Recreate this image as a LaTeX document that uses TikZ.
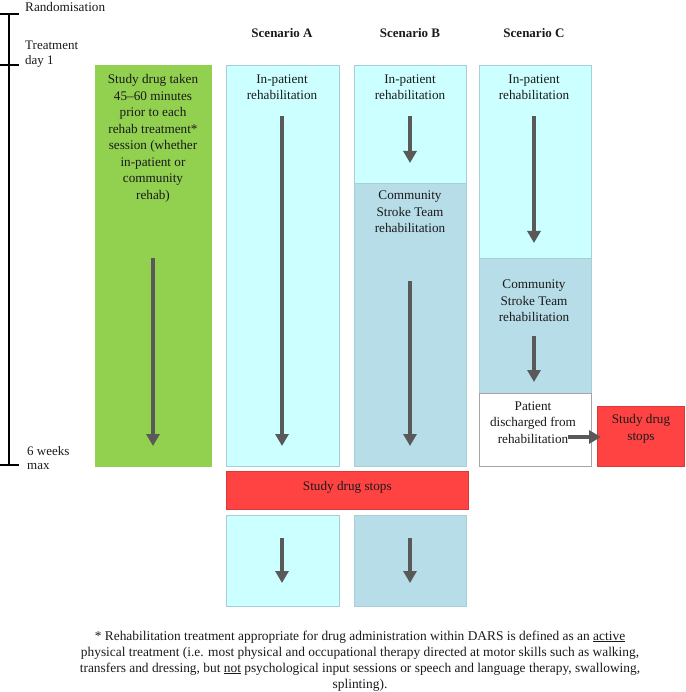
\documentclass[tikz,border=0pt]{standalone}
\usepackage{fontspec}
\setmainfont{Liberation Serif}
\usetikzlibrary{arrows.meta}
\definecolor{gr}{HTML}{92D050}
\definecolor{cy}{HTML}{CCFFFF}
\definecolor{lb}{HTML}{B7DDE8}
\definecolor{rd}{HTML}{FF4343}
\definecolor{ar}{HTML}{595959}
\definecolor{bd}{HTML}{A9CFD6}
\definecolor{tx}{HTML}{1A1A1A}
\begin{document}
\begin{tikzpicture}[x=1pt,y=-1pt,
  box/.style={rectangle, draw=bd, line width=0.6pt, inner sep=0pt, anchor=north west},
  txt/.style={font=\fontsize{13.2}{16.5}\selectfont, align=center, inner sep=0pt, text=tx},
  hdr/.style={font=\fontsize{13}{15}\selectfont\bfseries, inner sep=0pt, text=tx},
  flow/.style={draw=ar, line width=4.5pt, -{Triangle[width=13pt,length=12pt]}},
  tl/.style={line width=2.6pt, black}]
\useasboundingbox (0,0) rectangle (685,692);

% timeline
\coordinate (t0) at (9,14);
\coordinate (t1) at (9,65);
\coordinate (t2) at (9,465);
\coordinate (t0r) at (19,14);
\coordinate (t1r) at (19,65);
\coordinate (t2r) at (19,465);
\coordinate (t0l) at (0,14);
\coordinate (t1l) at (0,65);
\coordinate (t2l) at (0,465);
\draw[tl] (t0) -- (t2);
\draw[tl] (t0l) -- (t0r);
\draw[tl] (t1l) -- (t1r);
\draw[tl] (t2l) -- (t2r);
\node[txt, anchor=north west, align=left] (rand) at (25,2.5) {Randomisation};
\node[txt, anchor=north west, align=left, font=\fontsize{13}{15}\selectfont] (day1) at (25,40.5) {Treatment\\day 1};
\node[txt, anchor=north west, align=left, font=\fontsize{13}{13.5}\selectfont] (wk6) at (27,446.5) {6 weeks\\max};

% headers
\node[hdr] (hA) at (282,33) {Scenario A};
\node[hdr] (hB) at (410,33) {Scenario B};
\node[hdr] (hC) at (534,33) {Scenario C};

% boxes
\node[box, fill=gr, draw=gr, minimum width=116pt, minimum height=401pt] (g) at (95,65) {};
\node[box, fill=cy, minimum width=113pt, minimum height=401pt] (a1) at (226,65) {};
\node[box, fill=cy, minimum width=112pt, minimum height=118pt] (b1) at (354,65) {};
\node[box, fill=lb, minimum width=112pt, minimum height=283pt] (b2) at (354,183) {};
\node[box, fill=cy, minimum width=112pt, minimum height=193pt] (c1) at (479,65) {};
\node[box, fill=lb, minimum width=112pt, minimum height=135pt] (c2) at (479,258) {};
\node[box, fill=white, draw=gray!70, minimum width=112pt, minimum height=73pt] (c3) at (479,393) {};
\node[box, fill=rd, draw=rd!85!black, minimum width=87pt, minimum height=60pt] (sc) at (597,406) {};
\node[box, fill=rd, draw=rd!85!black, minimum width=242pt, minimum height=38pt] (sab) at (226,471) {};
\node[box, fill=cy, minimum width=113pt, minimum height=91pt] (a2) at (226,515) {};
\node[box, fill=lb, minimum width=112pt, minimum height=91pt] (b3) at (354,515) {};

% texts
\node[txt, anchor=north] (gt) at (153,74.5) {Study drug taken\\45–60 minutes\\prior to each\\rehab treatment*\\session (whether\\in-patient or\\community\\rehab)};
\node[txt, anchor=north] (a1t) at (282,74.5) {In-patient\\rehabilitation};
\node[txt, anchor=north] (b1t) at (410,74.5) {In-patient\\rehabilitation};
\node[txt, anchor=north] (b2t) at (410,191) {Community\\Stroke Team\\rehabilitation};
\node[txt, anchor=north] (c1t) at (534,74.5) {In-patient\\rehabilitation};
\node[txt, anchor=north] (c2t) at (534,280) {Community\\Stroke Team\\rehabilitation};
\node[txt, anchor=north] (c3t) at (533,401.5) {Patient\\discharged from\\rehabilitation};
\node[txt, anchor=north] (sct) at (641,414.5) {Study drug\\stops};
\node[txt] (sabt) at ([yshift=3pt]sab.center) {Study drug stops};

% arrows
\coordinate (ga) at (153,258); \coordinate (gb) at (153,446);
\coordinate (a1a) at (282,116); \coordinate (a1b) at (282,446);
\coordinate (b1a) at (410,116); \coordinate (b1b) at (410,163);
\coordinate (b2a) at (410,281); \coordinate (b2b) at (410,446);
\coordinate (c1a) at (534,116); \coordinate (c1b) at (534,243);
\coordinate (c2a) at (534,336); \coordinate (c2b) at (534,382);
\coordinate (c3a) at (568,437); \coordinate (c3b) at (601,437);
\coordinate (a2a) at (282,538); \coordinate (a2b) at (282,583);
\coordinate (b3a) at (410,538); \coordinate (b3b) at (410,583);
\foreach \p in {g,a1,b1,b2,c1,c2,c3,a2,b3} \draw[flow] (\p a) -- (\p b);

% footnote
\node[txt, anchor=north, font=\fontsize{13.4}{16}\selectfont] (fn) at (360,630.5) {* Rehabilitation treatment appropriate for drug administration within DARS is defined as an \underline{active}\\physical treatment (i.e. most physical and occupational therapy directed at motor skills such as walking,\\transfers and dressing, but \underline{not} psychological input sessions or speech and language therapy, swallowing,\\splinting).};
\end{tikzpicture}
\end{document}
